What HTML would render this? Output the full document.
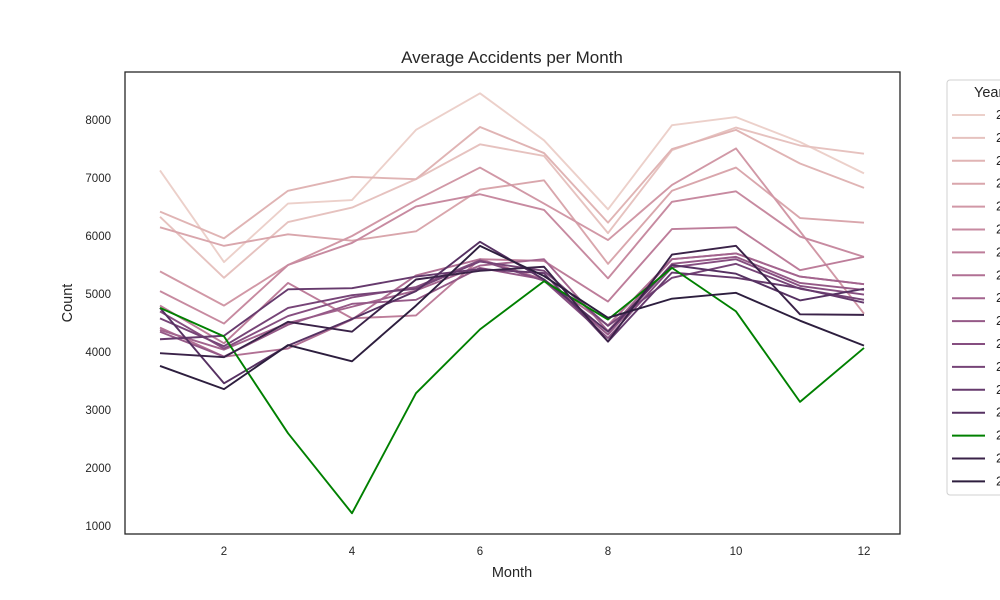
<!DOCTYPE html>
<html><head><meta charset="utf-8"><style>
html,body{margin:0;padding:0;background:#fff;overflow:hidden;width:1000px;height:600px}
svg text{font-family:"Liberation Sans",sans-serif;fill:#262626}
</style></head><body>
<svg id="chart" width="1000" height="600"></svg>
<script>
const months=[1,2,3,4,5,6,7,8,9,10,11,12];
const years=[2006,2007,2008,2009,2010,2011,2012,2013,2014,2015,2016,2017,2018,2019,2020,2021,2022];
const s0=[7130,5550,6560,6620,7830,8460,7650,6460,7910,8050,7620,7080];
const s1=[6330,5280,6240,6490,6980,7580,7380,6050,7480,7870,7560,7420];
const s2=[6420,5960,6780,7020,6980,7880,7430,6230,7500,7830,7250,6830];
const s3=[6150,5830,6030,5920,6080,6800,6960,5520,6780,7180,6310,6230];
const s4=[5390,4800,5500,6000,6620,7180,6560,5930,6880,7510,6080,4660];
const s5=[5050,4490,5500,5880,6510,6720,6450,5270,6590,6770,5990,5640];
const s6=[4800,4150,5190,4580,4630,5600,5570,4870,6120,6150,5410,5640];
const s7=[4420,3920,4060,4560,5320,5600,5250,4460,5600,5700,5300,5170];
const s8=[4380,4040,4500,4780,5060,5490,5600,4360,5600,5700,5300,5170];
const s9=[4350,3920,4470,4830,4900,5450,5250,4300,5520,5640,5190,5070];
const s10=[4700,4060,4620,4940,5120,5580,5230,4240,5460,5600,5140,4990];
const s11=[4580,4100,4760,4980,5090,5560,5400,4450,5280,5520,5090,4900];
const s12=[4220,4280,5080,5100,5300,5430,5360,4180,5370,5280,5100,4850];
const s13=[4760,3460,4110,4570,5050,5900,5250,4350,5500,5350,4890,5090];
const s14=[4760,4270,2600,1220,3290,4390,5220,4560,5450,4700,3140,4070];
const s15=[3980,3910,4520,4350,5250,5400,5470,4180,5680,5830,4650,4640];
const s16=[3760,3360,4120,3840,4800,5830,5310,4590,4920,5020,4540,4110];
const series=[s0,s1,s2,s3,s4,s5,s6,s7,s8,s9,s10,s11,s12,s13,s14,s15,s16];
const yTicks=[1000,2000,3000,4000,5000,6000,7000,8000];
const xTicks=[2,4,6,8,10,12];
const colors=["#ecd0ca","#e6c2bf","#e0b4b4","#d9a6ac","#d198a6","#c78aa0","#bd7d9a","#b17094","#a3648e","#955987","#864e80","#764477","#663a6d","#563162","#008000","#3a2248","#2d1e3e"];

const NS="http://www.w3.org/2000/svg";
const svg=document.getElementById('chart');
const L=125,R=900,T=72,B=534;
const xs=m=>160+(m-1)*64;
const ys=v=>120+(8000-v)*0.058;
function mk(t,a,p){const e=document.createElementNS(NS,t);for(const k in a)e.setAttribute(k,a[k]);(p||svg).appendChild(e);return e;}

const title=mk('text',{x:512,y:63,'text-anchor':'middle','font-size':17});
title.textContent='Average Accidents per Month';



const xt=mk('text',{x:512,y:577,'text-anchor':'middle','font-size':14.5});
xt.textContent='Month';


const yt=mk('text',{x:72,y:303,'text-anchor':'middle','font-size':14.5,transform:'rotate(-90 72 303)'});
yt.textContent='Count';



xTicks.forEach(m=>{
  const t=mk('text',{x:xs(m),y:555,'text-anchor':'middle','font-size':11.5});
  t.textContent=m;
  
  
});
yTicks.forEach(v=>{
  const t=mk('text',{x:111,y:ys(v)+4,'text-anchor':'end','font-size':11.5});
  t.textContent=v;
  
  
});

series.forEach((s,i)=>{
  const p=mk('polyline',{points:s.map((v,j)=>xs(months[j])+','+ys(v)).join(' '),fill:'none',stroke:colors[i],'stroke-width':1.9,'stroke-linejoin':'round'});
  
  
});

const frame=mk('rect',{x:L,y:T,width:R-L,height:B-T,fill:'none',stroke:'#262626','stroke-width':1.3});



const lg=mk('g',{});


mk('rect',{x:947,y:80,width:70,height:415,rx:3,fill:'#fff',stroke:'#d0d0d0'},lg);
const lt=mk('text',{x:974,y:97,'font-size':14.5},lg);
lt.textContent='Year';


years.forEach((yr,i)=>{
  const y=115+i*22.9;
  const g=mk('g',{},lg);
  
  
  mk('line',{x1:952,x2:985,y1:y,y2:y,stroke:colors[i],'stroke-width':2},g);
  const t=mk('text',{x:996,y:y+4,'font-size':13},g);
  t.textContent=yr;
});
</script>
</body></html>
